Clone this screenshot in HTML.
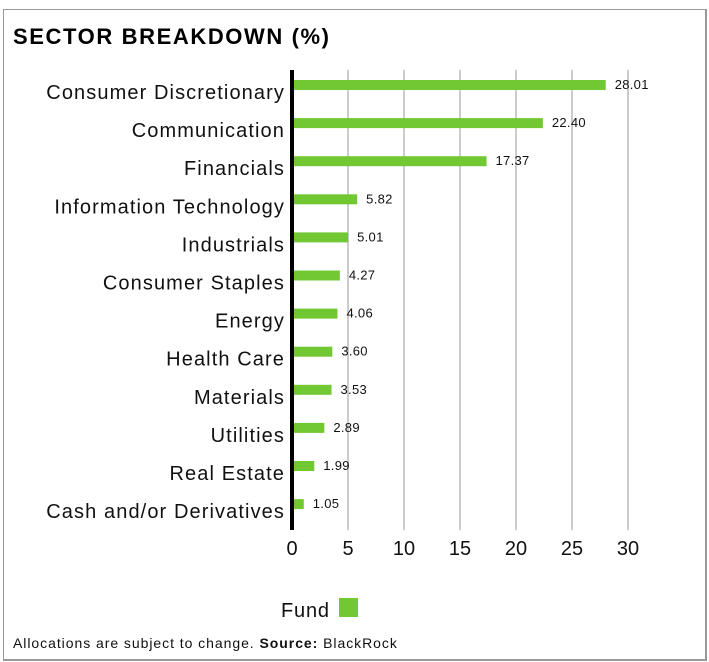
<!DOCTYPE html>
<html><head><style>
body{margin:0;width:709px;height:662px;background:#fff;font-family:"Liberation Sans",sans-serif;position:relative;overflow:hidden}
.box{position:absolute;left:3px;top:9px;width:701px;height:649px;border:1px solid #999;border-right:2px solid #999;border-bottom:2px solid #999}
.t{position:absolute;white-space:nowrap}
</style></head><body>
<div class="box"></div>
<div class="t" style="left:13px;top:24px;font-size:22px;font-weight:bold;letter-spacing:1.6px">SECTOR BREAKDOWN (%)</div>
<svg width="709" height="662" style="position:absolute;left:0;top:0" font-family="Liberation Sans, sans-serif">
<g stroke="#ccc" stroke-width="2">
<line x1="348" y1="70" x2="348" y2="530"/><line x1="404" y1="70" x2="404" y2="530"/><line x1="460" y1="70" x2="460" y2="530"/><line x1="516" y1="70" x2="516" y2="530"/><line x1="572" y1="70" x2="572" y2="530"/><line x1="628" y1="70" x2="628" y2="530"/>
</g>
<g fill="#72c833" id="bars"></g>
<line x1="292" y1="70" x2="292" y2="530" stroke="#000" stroke-width="4"/>
<g id="labels" font-size="20" fill="#111" text-anchor="end" letter-spacing="1.1"></g>
<g id="vals" font-size="13" fill="#111" letter-spacing="0.3"></g>
<g font-size="20" fill="#111" text-anchor="middle">
<text x="292" y="555">0</text><text x="348" y="555">5</text><text x="404" y="555">10</text><text x="460" y="555">15</text><text x="516" y="555">20</text><text x="572" y="555">25</text><text x="628" y="555">30</text>
</g>
<text x="281" y="617" font-size="20" fill="#111" letter-spacing="0.8">Fund</text>
<rect x="339" y="598" width="19" height="19" fill="#72c833"/>
<text x="13" y="648" font-size="14" fill="#111" letter-spacing="0.95">Allocations are subject to change. <tspan font-weight="bold">Source:</tspan> BlackRock</text>
</svg>
<script>
var d=[["Consumer Discretionary",28.01],["Communication",22.40],["Financials",17.37],["Information Technology",5.82],["Industrials",5.01],["Consumer Staples",4.27],["Energy",4.06],["Health Care",3.60],["Materials",3.53],["Utilities",2.89],["Real Estate",1.99],["Cash and/or Derivatives",1.05]];
var ns="http://www.w3.org/2000/svg",b=document.getElementById("bars"),l=document.getElementById("labels"),v=document.getElementById("vals");
d.forEach(function(r,i){var y=85+i*38.1;var w=r[1]*11.2;
var e=document.createElementNS(ns,"rect");e.setAttribute("x",292);e.setAttribute("y",y-5);e.setAttribute("width",w);e.setAttribute("height",10);b.appendChild(e);
var t=document.createElementNS(ns,"text");t.setAttribute("x",285);t.setAttribute("y",y+14);t.textContent=r[0];l.appendChild(t);
var s=document.createElementNS(ns,"text");s.setAttribute("x",292+w+9);s.setAttribute("y",y+4);s.textContent=r[1].toFixed(2);v.appendChild(s);});
</script>
</body></html>
